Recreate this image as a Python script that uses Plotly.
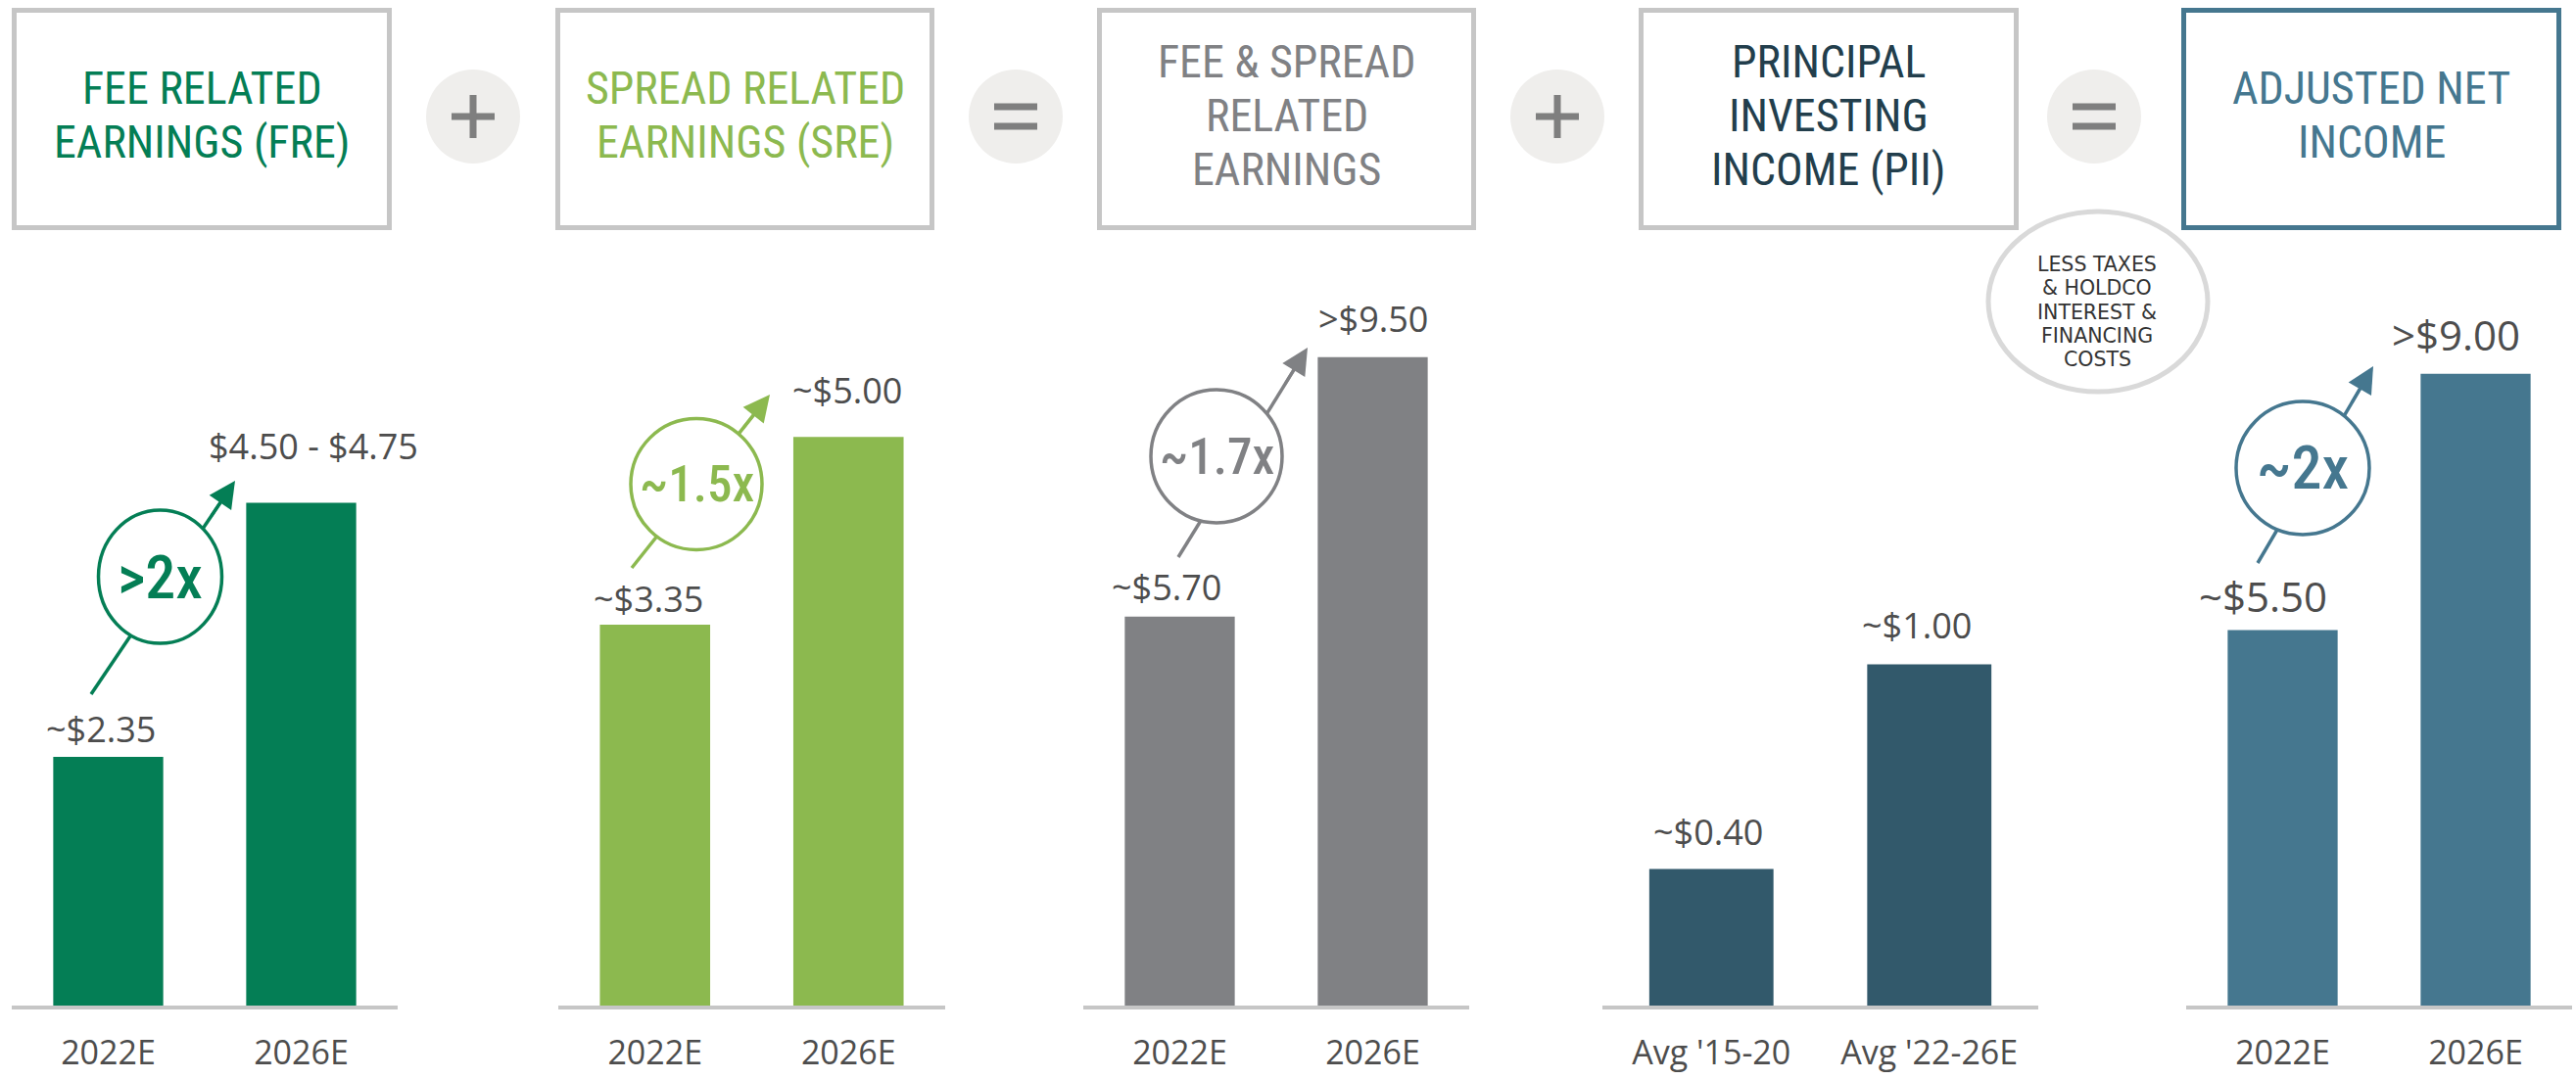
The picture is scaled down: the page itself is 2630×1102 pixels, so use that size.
import plotly.graph_objects as go

W, H = 2630, 1102


def px(x):
    return x / W


def py(y):
    return 1 - y / H


# ---------------- data ----------------
fre_cats = ["2022E", "2026E"]
fre_vals = [2.35, 4.75]
fre_text = ["~$2.35", "$4.50 - $4.75"]

sre_cats = ["2022E", "2026E"]
sre_vals = [3.35, 5.00]
sre_text = ["~$3.35", "~$5.00"]

fsre_cats = ["2022E", "2026E"]
fsre_vals = [5.70, 9.50]
fsre_text = ["~$5.70", ">$9.50"]

pii_cats = ["Avg '15-20", "Avg '22-26E"]
pii_vals = [0.40, 1.00]
pii_text = ["~$0.40", "~$1.00"]

ani_cats = ["2022E", "2026E"]
ani_vals = [5.50, 9.25]
ani_text = ["~$5.50", ">$9.00"]

header_lines = [
    ["FEE RELATED", "EARNINGS (FRE)"],
    ["SPREAD RELATED", "EARNINGS (SRE)"],
    ["FEE & SPREAD", "RELATED", "EARNINGS"],
    ["PRINCIPAL", "INVESTING", "INCOME (PII)"],
    ["ADJUSTED NET", "INCOME"],
]
growth_text = [">2x", "~1.5x", "~1.7x", "~2x"]
operators = ["+", "=", "+", "="]
note_lines = ["LESS TAXES", "& HOLDCO", "INTEREST &", "FINANCING", "COSTS"]

# ---------------- styles / layout constants ----------------
COND = "Roboto Condensed, DejaVu Sans Condensed, Liberation Sans"
SANS = "Open Sans, Noto Sans, sans-serif"
NOTE_FONT = "DejaVu Sans, Liberation Sans, sans-serif"
LABEL_C = "#4d4d4d"
GREEN, LGREEN, GREY, NAVY, TEAL = "#047e55", "#8cb94f", "#808184", "#32596b", "#45778f"
BASE_Y, TOP_Y = 1027, 150

panels = [
    dict(cats=fre_cats, vals=fre_vals, text=fre_text, color=GREEN, x0=12, x1=406,
         ppu=108.1, lsize=36, gaps=[14, 43], xs=[-8, 12]),
    dict(cats=sre_cats, vals=sre_vals, text=sre_text, color=LGREEN, x0=570, x1=965,
         ppu=116.15, lsize=36, gaps=[11, 33], xs=[-7, -1]),
    dict(cats=fsre_cats, vals=fsre_vals, text=fsre_text, color=GREY, x0=1106, x1=1500,
         ppu=69.7, lsize=36, gaps=[15, 24], xs=[-14, 0]),
    dict(cats=pii_cats, vals=pii_vals, text=pii_text, color=NAVY, x0=1636, x1=2081,
         ppu=348.5, lsize=36, gaps=[23, 25], xs=[-3, -13]),
    dict(cats=ani_cats, vals=ani_vals, text=ani_text, color=TEAL, x0=2232, x1=2626,
         ppu=69.75, lsize=42, gaps=[18, 23], xs=[-20, -20]),
]

header_boxes = [(12, 400), (567, 954), (1120, 1507), (1673, 2061), (2227, 2615)]
header_colors = [GREEN, LGREEN, GREY, "#223e4c", TEAL]
box_colors = ["#c6c6c6", "#c6c6c6", "#c6c6c6", "#c6c6c6", TEAL]
BOX_Y0, BOX_Y1 = 8, 235
HSIZE = 46
op_centers = [(483, 119), (1037, 119), (1590, 119), (2138, 119)]

bubbles = [
    dict(cx=163.5, cy=589, rx=63, ry=68, start=(93, 709), tip=(240, 491), color=GREEN, size=62),
    dict(cx=711, cy=494.5, rx=67, ry=67, start=(645, 580), tip=(786, 403), color=LGREEN, size=51),
    dict(cx=1242, cy=466, rx=67, ry=68, start=(1203, 569), tip=(1335, 355), color=GREY, size=51),
    dict(cx=2351, cy=478, rx=68, ry=68, start=(2305, 575), tip=(2423, 374), color=TEAL, size=62),
]

fig = go.Figure()
layout = dict(
    width=W, height=H, margin=dict(l=0, r=0, t=0, b=0, autoexpand=False),
    paper_bgcolor="white", plot_bgcolor="white", showlegend=False,
    bargap=0.43,
)
annotations = []
shapes = []

# ---------------- bar panels ----------------
for i, p in enumerate(panels):
    n = "" if i == 0 else str(i + 1)
    fig.add_trace(go.Bar(
        x=p["cats"], y=p["vals"], xaxis="x" + n, yaxis="y" + n,
        marker=dict(color=p["color"], line=dict(width=0)), hoverinfo="skip",
    ))
    layout["xaxis" + n] = dict(
        domain=[px(p["x0"]), px(p["x1"])], anchor="y" + n, type="category",
        range=[-0.5, 1.5], showline=True, linecolor="#c6c6c6", linewidth=4,
        ticks="outside", ticklen=15, tickcolor="rgba(0,0,0,0)", automargin=False,
        tickfont=dict(family=SANS, size=34, color=LABEL_C),
        showgrid=False, zeroline=False, fixedrange=True,
    )
    layout["yaxis" + n] = dict(
        domain=[py(BASE_Y), py(TOP_Y)], anchor="x" + n, automargin=False,
        range=[0, (BASE_Y - TOP_Y) / p["ppu"]], visible=False, fixedrange=True,
    )
    for j in range(len(p["cats"])):
        annotations.append(dict(
            x=p["cats"][j], y=p["vals"][j], xref="x" + n, yref="y" + n,
            text=p["text"][j], showarrow=False, xanchor="center", yanchor="bottom",
            xshift=p["xs"][j], yshift=p["gaps"][j] - 0.293 * p["lsize"] - 1,
            font=dict(family=SANS, size=p["lsize"], color=LABEL_C),
        ))

# ---------------- header boxes ----------------
for b, (x0, x1) in enumerate(header_boxes):
    shapes.append(dict(
        type="rect", xref="paper", yref="paper",
        x0=px(x0 + 2.5), x1=px(x1 - 2.5), y0=py(BOX_Y1 - 2.5), y1=py(BOX_Y0 + 2.5),
        line=dict(color=box_colors[b], width=5), fillcolor="white",
    ))
    lines = header_lines[b]
    tops = [70, 125] if len(lines) == 2 else [43, 98, 153]
    for k, txt in enumerate(lines):
        cap_center = tops[k] + 20
        annotations.append(dict(
            x=px((x0 + x1) / 2), y=py(cap_center), xref="paper", yref="paper",
            text=txt, showarrow=False, xanchor="center", yanchor="middle", borderpad=0,
            font=dict(family=COND, size=HSIZE, color=header_colors[b]),
        ))

# ---------------- operators ----------------
for (cx, cy), op in zip(op_centers, operators):
    shapes.append(dict(
        type="circle", xref="paper", yref="paper",
        x0=px(cx - 48), x1=px(cx + 48), y0=py(cy + 48), y1=py(cy - 48),
        fillcolor="#efeeec", line=dict(width=0),
    ))
    if op == "+":
        bars = [(cx - 22, cy - 3.5, cx + 22, cy + 3.5), (cx - 3.5, cy - 22, cx + 3.5, cy + 22)]
    else:
        bars = [(cx - 22, cy - 13.5, cx + 22, cy - 6.5), (cx - 22, cy + 6.5, cx + 22, cy + 13.5)]
    for (a, b_, c, d) in bars:
        shapes.append(dict(
            type="rect", xref="paper", yref="paper",
            x0=px(a), x1=px(c), y0=py(d), y1=py(b_),
            fillcolor="#7f7f7f", line=dict(width=0),
        ))

# ---------------- note ellipse ----------------
NX, NY, NRX, NRY = 2142, 308, 112, 92
shapes.append(dict(
    type="circle", xref="paper", yref="paper",
    x0=px(NX - NRX), x1=px(NX + NRX), y0=py(NY + NRY), y1=py(NY - NRY),
    fillcolor="white", line=dict(color="#d9d9d9", width=5),
))
for k, txt in enumerate(note_lines):
    annotations.append(dict(
        x=px(NX - 1), y=py(270 + 24.3 * k), xref="paper", yref="paper",
        text=txt, showarrow=False, xanchor="center", yanchor="middle", borderpad=0,
        font=dict(family=NOTE_FONT, size=20.5, color="#333333"),
    ))

# ---------------- growth bubbles ----------------
for g, txt in zip(bubbles, growth_text):
    (sx, sy), (tx, ty) = g["start"], g["tip"]
    shapes.append(dict(
        type="line", xref="paper", yref="paper",
        x0=px(sx), y0=py(sy), x1=px(tx + (sx - tx) * 0.08), y1=py(ty + (sy - ty) * 0.08),
        line=dict(color=g["color"], width=3.5),
    ))
    shapes.append(dict(
        type="circle", xref="paper", yref="paper",
        x0=px(g["cx"] - g["rx"]), x1=px(g["cx"] + g["rx"]),
        y0=py(g["cy"] + g["ry"]), y1=py(g["cy"] - g["ry"]),
        fillcolor="white", line=dict(color=g["color"], width=3.5),
    ))
    dx, dy = sx - tx, sy - ty
    L = (dx * dx + dy * dy) ** 0.5
    annotations.append(dict(
        x=px(tx), y=py(ty), xref="paper", yref="paper", text="",
        showarrow=True, arrowhead=2, arrowsize=1.8, arrowwidth=3,
        arrowcolor=g["color"], ax=dx / L * 45, ay=dy / L * 45, standoff=0,
    ))
    annotations.append(dict(
        x=px(g["cx"]), y=py(g["cy"]), xref="paper", yref="paper",
        text=txt, showarrow=False, xanchor="center", yanchor="middle",
        font=dict(family=COND, size=g["size"], color=g["color"], weight=500),
    ))

layout["annotations"] = annotations
layout["shapes"] = shapes
fig.update_layout(**layout)

fig.write_html(
    "out.html",
    config={"displayModeBar": False, "staticPlot": True},
    post_script="document.body.style.margin='0';document.body.style.overflow='hidden';",
)
